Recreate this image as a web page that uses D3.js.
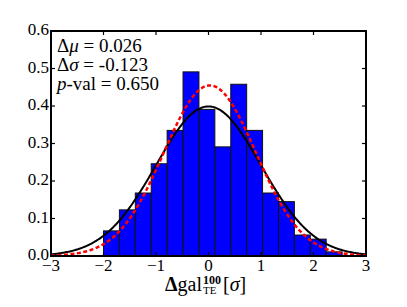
<!DOCTYPE html>
<html>
<head>
<meta charset="utf-8">
<script src="https://cdn.jsdelivr.net/npm/d3@7"></script>
<style>
  body { margin: 0; background: #fff; }
</style>
</head>
<body>
<div id="chart"></div>
<script>
// histogram of the normalised residuals
const binEdges = [-2.0, -1.697, -1.394, -1.091, -0.788, -0.485, -0.182, 0.121,
    0.424, 0.727, 1.03, 1.333, 1.636, 1.939, 2.242, 2.545];
const density = [0.067, 0.123, 0.168, 0.246, 0.335, 0.491, 0.391, 0.291,
    0.458, 0.335, 0.168, 0.145, 0.056, 0.045, 0.011];

// fitted gaussians
const refMu = 0, refSigma = 1;
const fitMu = 0.026, fitSigma = 0.877;

const xTicks = [-3, -2, -1, 0, 1, 2, 3];
const yTicks = [0.0, 0.1, 0.2, 0.3, 0.4, 0.5, 0.6];
const statLines = [
    ["Δ", "μ", " = 0.026"],
    ["Δ", "σ", " = -0.123"],
    ["", "p", "-val = 0.650"]
];

const width = 407, height = 307;
const margin = { top: 31, right: 41, bottom: 51, left: 51 };

const svg = d3.select("#chart")
    .append("svg")
    .attr("width", width)
    .attr("height", height)
    .attr("font-family", "'Liberation Serif', serif");

const x = d3.scaleLinear().domain([-3, 3]).range([margin.left, width - margin.right]);
const y = d3.scaleLinear().domain([0, 0.6]).range([height - margin.bottom, margin.top]);

const bins = density.map((d, i) => ({ x0: binEdges[i], x1: binEdges[i + 1], v: d }));

svg.append("g")
    .selectAll("rect")
    .data(bins)
    .join("rect")
    .attr("x", (d) => x(d.x0))
    .attr("y", (d) => y(d.v))
    .attr("width", (d) => x(d.x1) - x(d.x0))
    .attr("height", (d) => y(0) - y(d.v))
    .attr("fill", "#0000ff")
    .attr("stroke", "#111")
    .attr("stroke-width", 1);

const gauss = (mu, s) => (t) => Math.exp(-0.5 * ((t - mu) / s) ** 2) / (s * Math.sqrt(2 * Math.PI));
const grid = d3.range(0, 301).map((i) => -3 + i * 0.02);
const line = d3.line().x((d) => x(d[0])).y((d) => y(d[1]));

const ref = gauss(refMu, refSigma);
svg.append("path")
    .datum(grid.map((t) => [t, ref(t)]))
    .attr("fill", "none")
    .attr("stroke", "#000")
    .attr("stroke-width", 2)
    .attr("d", line);

const fit = gauss(fitMu, fitSigma);
svg.append("path")
    .datum(grid.map((t) => [t, fit(t)]))
    .attr("fill", "none")
    .attr("stroke", "#ff0000")
    .attr("stroke-width", 2.5)
    .attr("stroke-dasharray", "4,2.5")
    .attr("d", line);

// frame and inward ticks on all four sides
const tickLen = 4;
const ticks = svg.append("g").attr("stroke", "#000").attr("stroke-width", 1.2);
xTicks.forEach((t) => {
    ticks.append("line").attr("x1", x(t)).attr("x2", x(t))
        .attr("y1", y(0)).attr("y2", y(0) - tickLen);
    ticks.append("line").attr("x1", x(t)).attr("x2", x(t))
        .attr("y1", y(0.6)).attr("y2", y(0.6) + tickLen);
});
yTicks.forEach((t) => {
    ticks.append("line").attr("x1", x(-3)).attr("x2", x(-3) + tickLen)
        .attr("y1", y(t)).attr("y2", y(t));
    ticks.append("line").attr("x1", x(3)).attr("x2", x(3) - tickLen)
        .attr("y1", y(t)).attr("y2", y(t));
});

svg.append("rect")
    .attr("x", x(-3)).attr("y", y(0.6))
    .attr("width", x(3) - x(-3)).attr("height", y(0) - y(0.6))
    .attr("fill", "none")
    .attr("stroke", "#000")
    .attr("stroke-width", 2);

svg.append("g")
    .selectAll("text")
    .data(xTicks)
    .join("text")
    .attr("x", (d) => x(d))
    .attr("y", y(0) + 15)
    .attr("text-anchor", "middle")
    .attr("font-size", 17)
    .text((d) => (d < 0 ? "\u2212" + Math.abs(d) : d));

svg.append("g")
    .selectAll("text")
    .data(yTicks)
    .join("text")
    .attr("x", x(-3) - 2)
    .attr("y", (d) => y(d) + 4)
    .attr("text-anchor", "end")
    .attr("font-size", 17)
    .text((d) => d.toFixed(1));

// stats box text
const stats = svg.append("g").attr("font-size", 19);
statLines.forEach((l, i) => {
    const t = stats.append("text").attr("x", 57).attr("y", 52 + i * 19);
    t.append("tspan").text(l[0]);
    t.append("tspan").attr("font-style", "italic").text(l[1]);
    t.append("tspan").text(l[2]);
});

// x label: Δgal^{100}_{TE} [σ]
const xl = svg.append("g");
const base = 291;
const main = xl.append("text").attr("x", 165).attr("y", base).attr("font-size", 20);
main.append("tspan").attr("font-weight", "bold").text("Δ");
main.append("tspan").text("gal");
const mx = 165 + main.node().getComputedTextLength() + 1;
const sup = xl.append("text").attr("x", mx).attr("y", base - 7)
    .attr("font-size", 12).attr("font-weight", "bold").text("100");
xl.append("text").attr("x", mx).attr("y", base + 3)
    .attr("font-size", 11).text("TE");
const ex = mx + sup.node().getComputedTextLength() + 2;
const br = xl.append("text").attr("x", ex).attr("y", base).attr("font-size", 20);
br.append("tspan").text("[");
br.append("tspan").attr("font-style", "italic").text("σ");
br.append("tspan").text("]");
</script>
</body>
</html>
